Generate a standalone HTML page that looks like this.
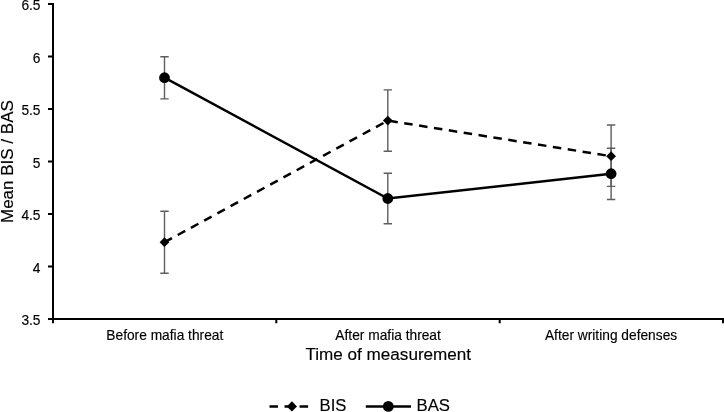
<!DOCTYPE html>
<html><head><meta charset="utf-8"><style>
html,body{margin:0;padding:0;background:#fff;}
svg{display:block;will-change:transform;}
text{font-family:"Liberation Sans",sans-serif;fill:#000;stroke:#000;stroke-width:0.15px;}
</style></head><body>
<svg width="724" height="412" viewBox="0 0 724 412">
<rect width="724" height="412" fill="#fff"/>
<!-- axes -->
<g stroke="#000" stroke-width="2" fill="none">
<line x1="53" y1="3" x2="53" y2="320"/>
<line x1="48" y1="319" x2="724" y2="319"/>
<line x1="48" y1="4" x2="53" y2="4"/>
<line x1="48" y1="56.5" x2="53" y2="56.5"/>
<line x1="48" y1="109" x2="53" y2="109"/>
<line x1="48" y1="161.5" x2="53" y2="161.5"/>
<line x1="48" y1="214" x2="53" y2="214"/>
<line x1="48" y1="266.5" x2="53" y2="266.5"/>
<line x1="276.3" y1="319" x2="276.3" y2="323.3"/>
<line x1="499.7" y1="319" x2="499.7" y2="323.3"/>
<line x1="723" y1="319" x2="723" y2="323.3"/>
<line x1="53" y1="319" x2="53" y2="323.3"/>
</g>
<!-- y tick labels -->
<g font-size="13.75" text-anchor="end">
<text x="40.5" y="10">6.5</text>
<text x="40.5" y="62.5">6</text>
<text x="40.5" y="115">5.5</text>
<text x="40.5" y="167.5">5</text>
<text x="40.5" y="220">4.5</text>
<text x="40.5" y="272.5">4</text>
<text x="40.5" y="325">3.5</text>
</g>
<!-- x labels -->
<g font-size="13.75" text-anchor="middle">
<text x="164.8" y="340">Before mafia threat</text>
<text x="388.1" y="340">After mafia threat</text>
<text x="611.05" y="340">After writing defenses</text>
</g>
<text x="388.3" y="360" font-size="17.1" text-anchor="middle">Time of measurement</text>
<text transform="translate(13.2,161.6) rotate(-90)" font-size="17" text-anchor="middle">Mean BIS / BAS</text>
<!-- error bars -->
<g stroke="#5e5e5e" stroke-width="1.4" fill="none">
<path d="M164.5 56.8V98.9M160.3 56.8H168.7M160.3 98.9H168.7"/>
<path d="M164.5 211.3V273.3M160.3 211.3H168.7M160.3 273.3H168.7"/>
<path d="M387.8 89.9V151.2M383.6 89.9H392M383.6 151.2H392"/>
<path d="M387.8 173.2V223.7M383.6 173.2H392M383.6 223.7H392"/>
<path d="M611.1 125V186.4M606.9 125H615.3M606.9 186.4H615.3"/>
<path d="M611.1 148.3V199.5M606.9 148.3H615.3M606.9 199.5H615.3"/>
</g>
<!-- series lines -->
<polyline points="164.5,242.2 387.8,120.6 611.1,156.2" fill="none" stroke="#000" stroke-width="2.5" stroke-dasharray="8.5 6.55"/>
<polyline points="164.5,77.7 387.8,198.5 611.1,173.7" fill="none" stroke="#000" stroke-width="2.5"/>
<!-- markers -->
<g fill="#000">
<circle cx="164.5" cy="77.7" r="5.4"/>
<circle cx="387.8" cy="198.5" r="5.4"/>
<circle cx="611.1" cy="173.7" r="5.4"/>
<path d="M164.5 237.30L169.40 242.2L164.5 247.10L159.60 242.2Z"/>
<path d="M387.8 115.7L392.7 120.6L387.8 125.5L382.9 120.6Z"/>
<path d="M611.1 151.30L616.00 156.2L611.1 161.10L606.20 156.2Z"/>
</g>
<!-- legend -->
<line x1="269.5" y1="406.4" x2="313.5" y2="406.4" stroke="#000" stroke-width="2.5" stroke-dasharray="8.5 6.55"/>
<path d="M291.9 401.3L297 406.4L291.9 411.5L286.8 406.4Z" fill="#000"/>
<text x="319.6" y="410.5" font-size="16.7">BIS</text>
<line x1="365.8" y1="406.4" x2="411" y2="406.4" stroke="#000" stroke-width="2.5"/>
<circle cx="388.3" cy="406.4" r="5.4" fill="#000"/>
<text x="416.6" y="410.5" font-size="16.7">BAS</text>
</svg>
</body></html>
